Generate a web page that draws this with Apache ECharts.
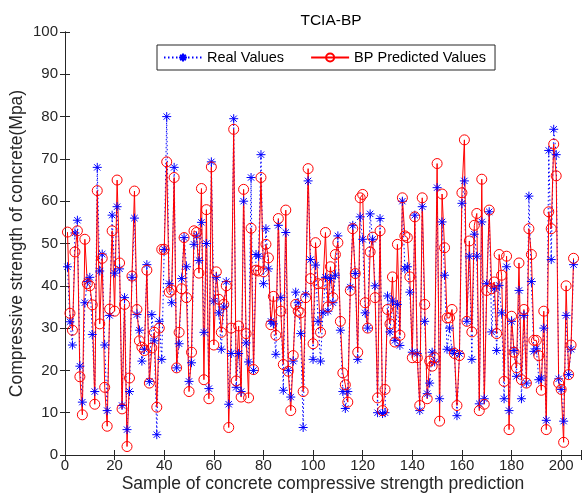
<!DOCTYPE html>
<html>
<head>
<meta charset="utf-8">
<script src="https://cdn.jsdelivr.net/npm/echarts@6/dist/echarts.min.js"></script>
<style>
html,body{margin:0;padding:0;background:#fff;}
#chart{width:585px;height:493px;}
</style>
</head>
<body>
<div id="chart"></div>
<script>
// Sample indices 1..N
const realValues = [
44.5,31.5,26,52.5,55.5,21,12.5,36,41,42,
28.5,15,68,43.5,47.5,26,10.5,33,56.7,43,
58.7,44,11.7,37.2,6,15,42,56,33.2,29.5,
22.2,25,45,17.4,33.2,27,4.8,31.6,22.6,48.6,
80,40.5,36,68,20.6,26.3,41.7,51.4,44.5,17.4,
21.8,49.8,51.8,46,55,29,50,15.7,69.3,36.4,
42,33.6,25,35,41,12,24,79.5,16,24,
15,60,26.5,22,65.6,20,47.4,47,71,40.5,
53.5,44,31.6,31,23.8,54.3,37.2,15.3,52.6,20,
13.7,22.2,38.5,36,28.7,6.5,38,64.8,46.2,22.6,
44.9,31.6,22.2,33.6,42,34,41.7,36,42.5,51.8,
29.5,15,11,15,39.7,54.3,42.9,22.6,56.3,51,
33.6,30,57,51,40,10,55.9,9.8,10,37.6,
29.1,36.4,27.1,35.6,25.9,60,44,44.5,38.5,24.3,
56.7,24,10.5,58.7,31.6,14.5,17,24.3,22,63.2,
13.3,55.1,42.5,25,30,24.7,24,9.3,24,59.5,
64.8,31.6,47,22.6,52.2,47,12.1,55.1,13.3,40.5,
57.5,29.1,39.3,24.7,40.1,33.6,13.3,44.5,10.5,31.6,
24.7,18.6,38.9,13.3,33,17,61.2,41,24.5,25.1,
17.8,18.2,30,8.2,72,46.2,77,71,18,15.5,
8,33,19,25,45
];
const predValues = [
52.7,33.5,29.5,48,53,18.5,9.5,51,40.5,40,
35.5,12,62.5,31,46.5,16,6.8,34.5,53,34,
65,45.4,10.9,35.6,2,18.2,42.3,62.4,34.4,27,
25.5,24.7,43.7,17,25.3,29,11.3,30,48.6,48.6,
69.3,38.5,39,65.6,20.6,29,39.3,51.4,37.2,15,
24.3,53,52.6,43,63,17.8,58,13.3,68.1,26,
43.3,36.8,29,35.6,40,6.5,30,77,17.5,30.5,
13.7,62.8,28.7,13.5,53.6,20.2,43.7,43.5,65.6,43.3,
49.8,46.6,30.8,37.5,28.3,55.9,34,21.4,57.9,19.8,
10.5,23.5,35.6,34,33.6,15,37.2,67.7,41.7,26.3,
50.2,40.5,29,40.5,52.6,35,44.5,37.2,47.4,50.2,
31.6,19.4,16.6,12.5,38.9,53.5,42.9,24.3,60.8,61.6,
36,30,48,51.5,37.2,13.5,53,10.5,15.5,34.4,
31,42.1,26.7,49.8,28.3,60.8,51.8,51.4,42.1,23,
56.3,23,11.7,60.8,35.6,13.3,22.2,21,23,68.9,
8,61.7,49,32.4,32.4,34.4,24,11.7,23.5,62,
74.5,31.6,50.6,29.1,54.3,57.1,10.5,65.2,12,38.9,
57.9,39.3,40.9,28.7,47.4,42.5,17.4,47,6,32.8,
24.3,20.6,45.4,17.8,34.4,17,53.5,47.4,27.1,27.1,
23.5,15.3,34,6,57.5,53.5,73.5,66,17,15.5,
3,40,19,26,46.5
];
const seriesNames = ['Real Values', 'BP Predicted Values'];
const titleText = 'TCIA-BP';
const xAxisName = 'Sample of concrete compressive strength prediction';
const yAxisName = 'Compressive strength of concrete(Mpa)';

const realData = realValues.map((v, i) => [i + 1, v]);
const predData = predValues.map((v, i) => [i + 1, v]);

const FONT = "'Liberation Sans', Arial, Helvetica, sans-serif";
const AX = '#262626';
const asterisk = 'path://M0,-1L0,1M-1,0L1,0M-0.7,-0.7L0.7,0.7M-0.7,0.7L0.7,-0.7';

const chart = echarts.init(document.getElementById('chart'), null, {renderer: 'canvas'});
const hiddenAxisCommon = {
  axisLabel: {show: false},
  axisTick: {show: true, inside: true, length: 5, lineStyle: {color: AX}},
  axisLine: {show: true, lineStyle: {color: AX, width: 1}},
  splitLine: {show: false}
};
chart.setOption({
  animation: false,
  backgroundColor: '#fff',
  textStyle: {fontFamily: FONT},
  title: {
    text: titleText,
    left: 326, top: 8, textAlign: 'center',
    textStyle: {fontFamily: FONT, fontSize: 15.5, fontWeight: 'normal', color: '#000'}
  },
  legend: {
    data: seriesNames,
    left: 157, top: 45,
    orient: 'horizontal',
    padding: [5, 9, 5, 6],
    itemWidth: 38, itemHeight: 10, itemGap: 26,
    backgroundColor: '#fff',
    borderColor: AX, borderWidth: 1, borderRadius: 0,
    textStyle: {fontFamily: FONT, fontSize: 14.5, color: '#000'}
  },
  grid: {left: 65, right: 4, top: 32, bottom: 38, containLabel: false, outerBoundsMode: 'none', show: false},
  xAxis: [{
    type: 'value', min: 0, max: 208, interval: 20,
    name: xAxisName, nameLocation: 'middle', nameGap: 20, nameMoveOverlap: false,
    nameTextStyle: {fontFamily: FONT, fontSize: 17.5, color: AX},
    axisLine: {show: true, onZero: false, lineStyle: {color: AX, width: 1}},
    axisTick: {show: true, inside: true, length: 5, lineStyle: {color: AX}},
    axisLabel: {fontFamily: FONT, fontSize: 15, color: AX, margin: 3,
      formatter: v => (v % 20 === 0 ? String(v) : '')},
    splitLine: {show: false}
  }, Object.assign({type: 'value', position: 'top', min: 0, max: 208, interval: 20}, hiddenAxisCommon)],
  yAxis: [{
    type: 'value', min: 0, max: 100, interval: 10,
    name: yAxisName, nameLocation: 'middle', nameGap: 39, nameRotate: 90, nameMoveOverlap: false,
    nameTextStyle: {fontFamily: FONT, fontSize: 17.5, color: AX},
    axisLine: {show: true, onZero: false, lineStyle: {color: AX, width: 1}},
    axisTick: {show: true, inside: true, length: 5, lineStyle: {color: AX}},
    axisLabel: {fontFamily: FONT, fontSize: 15, color: AX, margin: 7},
    splitLine: {show: false}
  }, Object.assign({type: 'value', position: 'right', min: 0, max: 100, interval: 10}, hiddenAxisCommon)],
  series: [{
    name: seriesNames[0], type: 'line', data: realData,
    symbol: asterisk, symbolSize: 9,
    lineStyle: {color: '#0000ff', width: 1, type: [1.5, 2.5]},
    itemStyle: {color: 'rgba(0,0,0,0)', borderColor: '#0000ff', borderWidth: 1},
    emphasis: {disabled: true}
  }, {
    name: seriesNames[1], type: 'line', data: predData,
    symbol: 'circle', symbolSize: 10,
    lineStyle: {color: '#ff0000', width: 1},
    itemStyle: {color: 'rgba(0,0,0,0)', borderColor: '#ff0000', borderWidth: 1},
    emphasis: {disabled: true}
  }]
});
</script>
</body>
</html>
